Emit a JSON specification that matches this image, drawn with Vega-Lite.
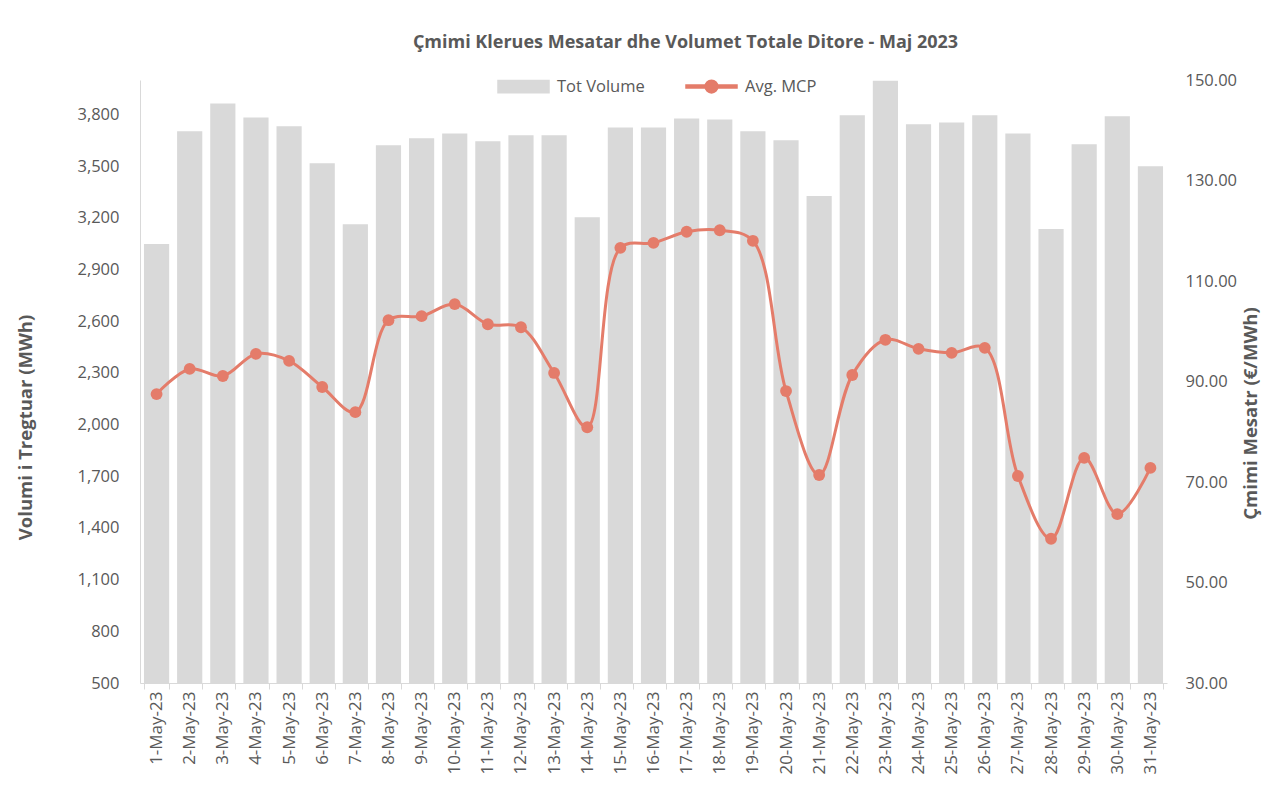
{
  "$schema": "https://vega.github.io/schema/vega-lite/v6.json",
  "width": 1027,
  "height": 603,
  "autosize": {"type": "none"},
  "padding": {"left": 140, "top": 80, "right": 99, "bottom": 108},
  "background": "white",
  "title": {
    "text": "Çmimi Klerues Mesatar dhe Volumet Totale Ditore - Maj 2023",
    "font": "Open Sans",
    "fontSize": 18,
    "fontWeight": "bold",
    "color": "#595959",
    "frame": "group",
    "anchor": "middle",
    "dx": 32,
    "offset": 8
  },
  "config": {
    "view": {"stroke": null},
    "font": "Open Sans",
    "axis": {
      "grid": false,
      "labelColor": "#595959",
      "titleColor": "#595959",
      "labelFont": "Open Sans",
      "titleFont": "Open Sans",
      "domainColor": "#d9d9d9",
      "tickColor": "#d9d9d9"
    },
    "legend": {
      "labelFont": "Open Sans",
      "labelColor": "#595959",
      "labelFontSize": 16.5
    }
  },
  "data": {
    "values": [
      {"d": "1-May-23", "vol": 3048, "mcp": 87.5},
      {"d": "2-May-23", "vol": 3702, "mcp": 92.5},
      {"d": "3-May-23", "vol": 3864, "mcp": 91.1},
      {"d": "4-May-23", "vol": 3783, "mcp": 95.5},
      {"d": "5-May-23", "vol": 3731, "mcp": 94.1},
      {"d": "6-May-23", "vol": 3517, "mcp": 88.9},
      {"d": "7-May-23", "vol": 3163, "mcp": 83.9},
      {"d": "8-May-23", "vol": 3621, "mcp": 102.2},
      {"d": "9-May-23", "vol": 3662, "mcp": 103.0},
      {"d": "10-May-23", "vol": 3690, "mcp": 105.4},
      {"d": "11-May-23", "vol": 3644, "mcp": 101.4},
      {"d": "12-May-23", "vol": 3679, "mcp": 100.8},
      {"d": "13-May-23", "vol": 3679, "mcp": 91.7},
      {"d": "14-May-23", "vol": 3204, "mcp": 80.9},
      {"d": "15-May-23", "vol": 3725, "mcp": 116.6},
      {"d": "16-May-23", "vol": 3725, "mcp": 117.6},
      {"d": "17-May-23", "vol": 3777, "mcp": 119.8},
      {"d": "18-May-23", "vol": 3771, "mcp": 120.1},
      {"d": "19-May-23", "vol": 3702, "mcp": 118.0},
      {"d": "20-May-23", "vol": 3650, "mcp": 88.1},
      {"d": "21-May-23", "vol": 3326, "mcp": 71.4},
      {"d": "22-May-23", "vol": 3795, "mcp": 91.3},
      {"d": "23-May-23", "vol": 3995, "mcp": 98.3},
      {"d": "24-May-23", "vol": 3743, "mcp": 96.5},
      {"d": "25-May-23", "vol": 3754, "mcp": 95.7},
      {"d": "26-May-23", "vol": 3795, "mcp": 96.7},
      {"d": "27-May-23", "vol": 3690, "mcp": 71.2},
      {"d": "28-May-23", "vol": 3135, "mcp": 58.7},
      {"d": "29-May-23", "vol": 3627, "mcp": 74.8},
      {"d": "30-May-23", "vol": 3789, "mcp": 63.6},
      {"d": "31-May-23", "vol": 3500, "mcp": 72.8}
    ]
  },
  "encoding": {
    "x": {
      "field": "d",
      "type": "nominal",
      "sort": null,
      "scale": {"paddingInner": 0.24, "paddingOuter": 0.12},
      "axis": {
        "title": null,
        "labelAngle": -90,
        "labelAlign": "right",
        "labelBaseline": "middle",
        "labelFontSize": 17,
        "labelPadding": 2,
        "tickBand": "extent",
        "tickSize": 6
      }
    }
  },
  "layer": [
    {
      "mark": {"type": "bar", "clip": true},
      "encoding": {
        "y": {
          "field": "vol",
          "type": "quantitative",
          "scale": {"domain": [500, 4000], "nice": false, "zero": false},
          "axis": {
            "title": "Volumi i Tregtuar (MWh)",
            "titleFontSize": 18.5,
            "titleFontWeight": "bold",
            "titleX": -115,
            "titleY": 347,
            "titleAngle": -90,
            "titleAlign": "center",
            "titleBaseline": "middle",
            "values": [500, 800, 1100, 1400, 1700, 2000, 2300, 2600, 2900, 3200, 3500, 3800],
            "format": ",d",
            "labelFontSize": 16.5,
            "labelPadding": 21,
            "ticks": false,
            "domain": true
          }
        },
        "color": {
          "datum": "Tot Volume",
          "scale": {"domain": ["Tot Volume", "Avg. MCP"], "range": ["#d9d9d9", "#e47c6a"]},
          "legend": {
            "title": null,
            "orient": "none",
            "direction": "horizontal",
            "legendX": 357,
            "legendY": -20,
            "symbolSize": 2601,
            "labelOffset": 7,
            "columnPadding": 38,
            "gridAlign": "all",
            "columns": 2,
            "padding": 0,
            "encode": {
              "symbols": {
                "update": {
                  "shape": {"signal": "datum.value === 'Tot Volume' ? 'M-1,-0.24H1V0.24H-1Z' : 'M-1,-0.06H1V0.06H-1Z M-0.25,0A0.25,0.25 0 1,1 0.25,0A0.25,0.25 0 1,1 -0.25,0Z'"},
                  "fill": {"signal": "datum.value === 'Tot Volume' ? '#d9d9d9' : '#e47c6a'"},
                  "stroke": {"value": "transparent"},
                  "opacity": {"value": 1},
                  "fillOpacity": {"value": 1}
                }
              }
            }
          }
        }
      }
    },
    {
      "encoding": {
        "y": {
          "field": "mcp",
          "type": "quantitative",
          "scale": {"domain": [30, 150], "nice": false, "zero": false},
          "axis": {
            "orient": "right",
            "title": "Çmimi Mesatr (€/MWh)",
            "titleFontSize": 18.5,
            "titleFontWeight": "bold",
            "titleX": 83,
            "titleY": 333,
            "titleAngle": -90,
            "titleAlign": "center",
            "titleBaseline": "middle",
            "values": [30, 50, 70, 90, 110, 130, 150],
            "format": ".2f",
            "labelFontSize": 16.5,
            "labelPadding": 18,
            "ticks": false,
            "domain": false
          }
        },
        "color": {"datum": "Avg. MCP"}
      },
      "layer": [
        {"mark": {"type": "line", "interpolate": "catmull-rom", "strokeWidth": 3}},
        {"mark": {"type": "point", "filled": true, "size": 140, "opacity": 1}}
      ]
    }
  ],
  "resolve": {"scale": {"y": "independent"}}
}
